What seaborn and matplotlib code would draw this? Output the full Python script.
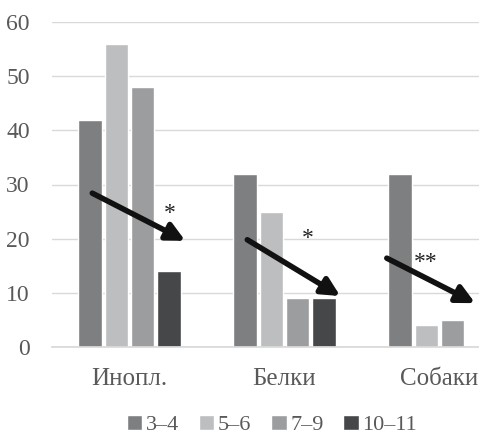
import numpy as np
import pandas as pd
import matplotlib
matplotlib.use("Agg")
import matplotlib.pyplot as plt
import seaborn as sns

# data
categories = ["Инопл.", "Белки", "Собаки"]
age_groups = ["3–4", "5–6", "7–9", "10–11"]
values = {
    "3–4": [42, 32, 32],
    "5–6": [56, 25, 4],
    "7–9": [48, 9, 5],
    "10–11": [14, 9, np.nan],
}
colors = ["#7e7f81", "#bdbec0", "#9c9d9f", "#464749"]

# trend arrows (start, end) and significance marks
arrows = [((-0.24, 28.4), (0.36, 19.6)),
          ((0.76, 19.8), (1.36, 9.4)),
          ((1.66, 16.4), (2.23, 8.1))]
stars = [(0.26, 24.7, "*"), (1.15, 20.1, "*"), (1.91, 15.6, "**")]

rows = []
for g in age_groups:
    for c, v in zip(categories, values[g]):
        rows.append({"cat": c, "age": g, "val": v})
df = pd.DataFrame(rows)

sns.set_theme(style="white")
plt.rcParams["font.family"] = ["Liberation Serif", "DejaVu Serif"]

fig = plt.figure(figsize=(4.79, 4.38), dpi=100)
ax = fig.add_axes([52 / 479, 1 - 347 / 438, (479 - 52) / 479, (347 - 22) / 438])

sns.barplot(data=df, x="cat", y="val", hue="age", order=categories,
            hue_order=age_groups, palette=colors, width=0.68, gap=0.12,
            saturation=1, ax=ax, legend=True)

ax.set_xlim(-0.5, -0.5 + (479 - 52) / 155)
ax.set_ylim(0, 60)
ax.set_yticks(range(0, 61, 10))
ax.yaxis.grid(True, color="#d9d9d9", linewidth=1)
ax.set_axisbelow(True)
for s in ["top", "right", "left"]:
    ax.spines[s].set_visible(False)
ax.spines["bottom"].set_color("#d9d9d9")
ax.tick_params(axis="y", length=0, pad=16, labelsize=17, labelcolor="#595959")
ax.tick_params(axis="x", length=0, pad=15, labelsize=18, labelcolor="#595959")
ax.set_xlabel("")
ax.set_ylabel("")

for (x0, y0), (x1, y1) in arrows:
    ax.annotate("", xy=(x1, y1), xytext=(x0, y0),
                arrowprops=dict(arrowstyle="-|>,head_length=0.9,head_width=0.45",
                                color="#111111", lw=4, shrinkA=0, shrinkB=0))
for x, y, t in stars:
    ax.text(x, y, t, ha="center", va="center", fontsize=17, color="#222222")

leg = ax.legend(loc="center", bbox_to_anchor=(0.515, -0.24), ncol=4,
                frameon=False, fontsize=16, handlelength=0.7, handleheight=0.7,
                handletextpad=0.15, columnspacing=0.9, labelcolor="#595959",
                borderaxespad=0, borderpad=0.1)

fig.savefig("out.png", dpi=100)
